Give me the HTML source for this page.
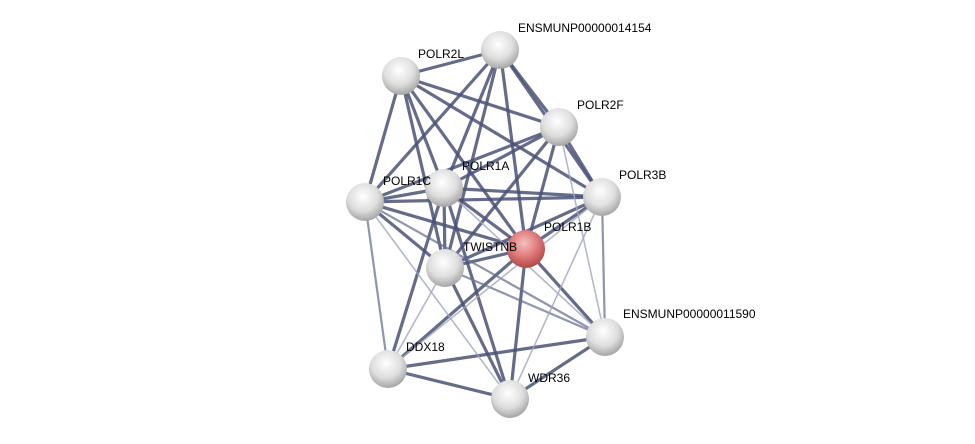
<!DOCTYPE html>
<html><head><meta charset="utf-8"><style>
html,body{margin:0;padding:0;background:#fff;width:975px;height:444px;overflow:hidden}
text{font-family:"Liberation Sans",sans-serif;font-size:12px;fill:#000}
</style></head><body>
<svg width="975" height="444" viewBox="0 0 975 444" xmlns="http://www.w3.org/2000/svg">
<defs>
<radialGradient id="g" cx="0.45" cy="0.35" r="0.7">
<stop offset="0" stop-color="#ffffff"/><stop offset="0.55" stop-color="#dedede"/><stop offset="1" stop-color="#9a9a9a"/>
</radialGradient>
<radialGradient id="r" cx="0.45" cy="0.35" r="0.7">
<stop offset="0" stop-color="#f6c0c0"/><stop offset="0.55" stop-color="#dc7474"/><stop offset="1" stop-color="#a84040"/>
</radialGradient>
</defs>
<g stroke="#4a5275" stroke-width="3.2" stroke-opacity="0.85" fill="none">
<line x1="401" y1="76" x2="500" y2="50"/>
<line x1="401" y1="76" x2="559" y2="127"/>
<line x1="401" y1="76" x2="444" y2="188"/>
<line x1="401" y1="76" x2="365" y2="202"/>
<line x1="401" y1="76" x2="602" y2="197"/>
<line x1="401" y1="76" x2="526" y2="249"/>
<line x1="401" y1="76" x2="445" y2="268"/>
<line x1="500" y1="50" x2="559" y2="127"/>
<line x1="500" y1="50" x2="444" y2="188"/>
<line x1="500" y1="50" x2="365" y2="202"/>
<line x1="500" y1="50" x2="526" y2="249"/>
<line x1="500" y1="50" x2="445" y2="268"/>
<line x1="500" y1="50" x2="602" y2="197"/>
<line x1="559" y1="127" x2="444" y2="188"/>
<line x1="559" y1="127" x2="365" y2="202"/>
<line x1="559" y1="127" x2="602" y2="197"/>
<line x1="559" y1="127" x2="526" y2="249"/>
<line x1="559" y1="127" x2="445" y2="268"/>
<line x1="444" y1="188" x2="365" y2="202"/>
<line x1="444" y1="188" x2="602" y2="197"/>
<line x1="444" y1="188" x2="526" y2="249"/>
<line x1="444" y1="188" x2="445" y2="268"/>
<line x1="365" y1="202" x2="602" y2="197"/>
<line x1="365" y1="202" x2="526" y2="249"/>
<line x1="365" y1="202" x2="445" y2="268"/>
<line x1="602" y1="197" x2="526" y2="249"/>
<line x1="602" y1="197" x2="445" y2="268"/>
<line x1="526" y1="249" x2="445" y2="268"/>
<line x1="526" y1="249" x2="605" y2="337"/>
<line x1="526" y1="249" x2="510" y2="399"/>
<line x1="526" y1="249" x2="388" y2="369"/>
<line x1="388" y1="369" x2="510" y2="399"/>
<line x1="388" y1="369" x2="605" y2="337"/>
<line x1="510" y1="399" x2="605" y2="337"/>
<line x1="444" y1="188" x2="510" y2="399"/>
<line x1="445" y1="268" x2="510" y2="399"/>
<line x1="444" y1="188" x2="388" y2="369"/>
</g>
<g stroke="#6a7290" stroke-width="2.2" stroke-opacity="0.75">
<line x1="365" y1="202" x2="388" y2="369"/>
<line x1="602" y1="197" x2="605" y2="337"/>
<line x1="445" y1="268" x2="605" y2="337"/>
<line x1="365" y1="202" x2="605" y2="337"/>
</g>
<g stroke="#a0a6bd" stroke-width="1.6" stroke-opacity="0.8">
<line x1="559" y1="127" x2="605" y2="337"/>
<line x1="602" y1="197" x2="510" y2="399"/>
<line x1="602" y1="197" x2="388" y2="369"/>
<line x1="365" y1="202" x2="510" y2="399"/>
<line x1="445" y1="268" x2="388" y2="369"/>
<line x1="444" y1="188" x2="605" y2="337"/>
</g>
<g>
<circle cx="500" cy="50" r="19" fill="url(#g)"/>
<circle cx="401" cy="76" r="19" fill="url(#g)"/>
<circle cx="559" cy="127" r="19" fill="url(#g)"/>
<circle cx="365" cy="202" r="19" fill="url(#g)"/>
<circle cx="602" cy="197" r="19" fill="url(#g)"/>
<circle cx="444" cy="188" r="19" fill="url(#g)"/>
<circle cx="445" cy="268" r="19" fill="url(#g)"/>
<circle cx="526" cy="249" r="19" fill="url(#r)"/>
<circle cx="605" cy="337" r="19" fill="url(#g)"/>
<circle cx="388" cy="369" r="19" fill="url(#g)"/>
<circle cx="510" cy="399" r="19" fill="url(#g)"/>
</g>
<text x="518" y="32">ENSMUNP00000014154</text>
<text x="418" y="58">POLR2L</text>
<text x="577" y="109">POLR2F</text>
<text x="462" y="170">POLR1A</text>
<text x="383" y="185">POLR1C</text>
<text x="619" y="179">POLR3B</text>
<text x="544" y="231">POLR1B</text>
<text x="463" y="251">TWISTNB</text>
<text x="623" y="318">ENSMUNP00000011590</text>
<text x="406" y="351">DDX18</text>
<text x="528" y="382">WDR36</text>
</svg>
</body></html>
